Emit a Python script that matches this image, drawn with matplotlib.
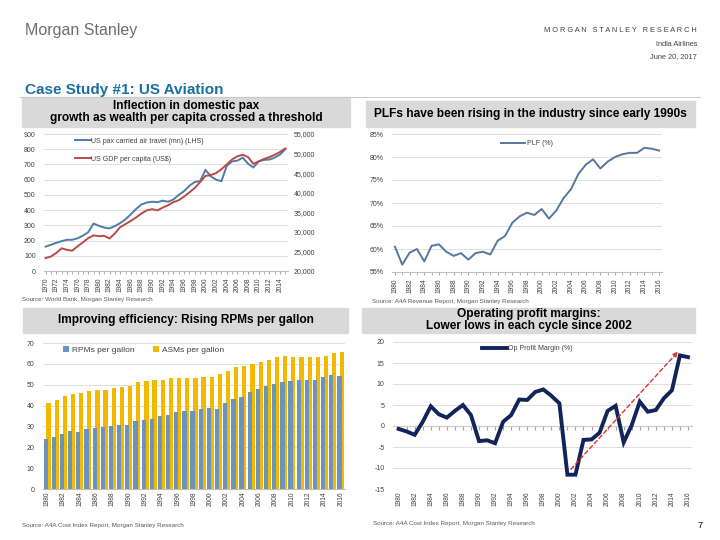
import matplotlib
matplotlib.use("Agg")
import matplotlib.pyplot as plt
from matplotlib.patches import Rectangle
from matplotlib.ticker import FuncFormatter, MultipleLocator

plt.rcParams['font.family'] = ['Liberation Sans', 'DejaVu Sans']
plt.rcParams['axes.unicode_minus'] = False

# -----------------------------------------------------
# Data
# -----------------------------------------------------

pax_years = list(range(1970, 2016))
pax_mn = [160, 172, 185, 196, 205, 205, 215, 232, 255, 312,
          297, 285, 280, 295, 315, 340, 372, 408, 437, 450,
          455, 452, 462, 455, 470, 500, 525, 560, 585, 590,
          665, 622, 600, 590, 690, 720, 725, 745, 705, 680,
          720, 730, 732, 745, 765, 800]
gdp_pc = [23300, 23700, 24600, 25800, 25400, 25200, 26300, 27300, 28400, 29100,
          28900, 29000, 28300, 29600, 31200, 32000, 32800, 33700, 34700, 35500,
          35800, 35500, 36200, 36800, 37600, 38100, 39000, 40100, 41200, 42700,
          44300, 44500, 45000, 46000, 47200, 48500, 49300, 49700, 49100, 47400,
          48000, 48600, 49100, 49700, 50400, 51300]

plf_years = list(range(1980, 2017))
plf_pct = [60.5, 56.6, 59.2, 60.0, 57.3, 60.7, 61.0, 59.4, 58.5, 59.1,
           57.7, 59.1, 59.4, 58.8, 61.8, 62.8, 65.7, 67.1, 67.9, 67.4,
           68.7, 66.6, 68.4, 71.1, 73.0, 76.3, 78.3, 79.5, 77.5, 79.0,
           80.0, 80.6, 80.9, 80.9, 82.0, 81.8, 81.4]

eff_years = list(range(1980, 2017))
rpm_per_gal = [24.0, 25.0, 26.3, 28.0, 27.2, 29.0, 29.2, 29.8, 30.3, 30.8,
               30.8, 32.5, 33.0, 33.7, 34.8, 35.5, 37.0, 37.5, 37.5, 38.2,
               39.0, 38.3, 41.0, 43.0, 44.3, 46.5, 48.0, 49.3, 50.3, 51.2,
               52.0, 52.2, 52.3, 52.5, 53.6, 54.6, 54.0]
asm_per_gal = [41.0, 42.7, 44.5, 45.5, 45.8, 47.0, 47.7, 47.5, 48.3, 48.8,
               49.2, 51.2, 51.8, 52.3, 52.3, 53.0, 53.2, 53.3, 53.0, 53.5,
               53.7, 55.0, 56.8, 58.7, 58.8, 59.8, 60.7, 61.7, 63.2, 63.6,
               63.2, 63.5, 63.2, 63.2, 64.0, 65.2, 65.5]

margin_years = list(range(1980, 2017))
op_margin = [-0.7, -1.3, -2.1, 1.0, 4.7, 2.8, 2.0, 3.6, 5.0, 2.6,
             -3.6, -3.4, -4.1, 1.0, 2.6, 6.3, 6.2, 8.1, 8.7, 7.2,
             5.4, -11.6, -11.6, -3.3, -3.2, -1.6, 3.6, 4.8, -3.9, 0.2,
             5.8, 3.4, 3.8, 6.6, 8.5, 16.8, 16.4]

# trend arrow (start / end of the dashed red arrow)
arrow_from = (2001.2, -10.8)
arrow_to = (2015.0, 18.2)

# -----------------------------------------------------
# Helpers (positions given in slide pixels)
# -----------------------------------------------------

W, H = 720, 540
fig = plt.figure(figsize=(7.2, 5.4), dpi=100)


def box(x0, y0, x1, y1):
    return [x0 / W, 1 - y1 / H, (x1 - x0) / W, (y1 - y0) / H]


def title_box(x0, y0, x1, y1, text):
    fig.patches.append(Rectangle((x0 / W, 1 - y1 / H), (x1 - x0) / W, (y1 - y0) / H,
                                 transform=fig.transFigure, color='#d9d9d9', zorder=0))
    fig.text((x0 + x1) / 2 / W, 1 - (y0 + y1) / 2 / H, text, ha='center', va='center',
             fontsize=8.6, fontweight='bold', linespacing=1.0)


def source(x, y, text):
    fig.text(x / W, 1 - y / H, text, fontsize=4.5, color='#595959', va='center')


def excel_style(ax):
    for s in ['top', 'right', 'left']:
        ax.spines[s].set_visible(False)
    ax.spines['bottom'].set_color('#bfbfbf')
    ax.grid(axis='y', color='#d9d9d9', lw=0.6)
    ax.set_axisbelow(True)
    ax.tick_params(axis='y', length=0, labelsize=5, colors='#404040', pad=6)
    ax.tick_params(axis='x', length=2.5, color='#a6a6a6', labelsize=4.8,
                   labelrotation=90, labelcolor='#404040', pad=2)


# -----------------------------------------------------
# Page header
# -----------------------------------------------------

fig.text(25 / W, 1 - 30 / H, "Morgan Stanley", fontsize=11.5, color='#6e6e6e', va='center')
fig.text(697 / W, 1 - 30 / H, "M O R G A N   S T A N L E Y   R E S E A R C H",
         fontsize=5.3, color='#404040', ha='right', va='center')
fig.text(697 / W, 1 - 44 / H, "India Airlines", fontsize=5.3, color='#404040', ha='right', va='center')
fig.text(697 / W, 1 - 57 / H, "June 20, 2017", fontsize=5.3, color='#404040', ha='right', va='center')
fig.text(25 / W, 1 - 90 / H, "Case Study #1: US Aviation", fontsize=11, fontweight='bold',
         color='#1a6fa3', va='center')
fig.lines.append(plt.Line2D([20 / W, 700 / W], [1 - 97 / H, 1 - 97 / H],
                            transform=fig.transFigure, color='#c8c8c8', lw=0.7))

# -----------------------------------------------------
# 1. Pax vs GDP per capita
# -----------------------------------------------------

title_box(22, 97, 350, 127, "Inflection in domestic pax\ngrowth as wealth per capita crossed a threshold")
ax1 = fig.add_axes(box(44, 134, 288, 271))
excel_style(ax1)
l1, = ax1.plot(pax_years, pax_mn, color='#4f7cab', lw=1.4)
ax1.set_ylim(0, 900)
ax1.yaxis.set_major_locator(MultipleLocator(100))
ax1.set_xlim(1969.7, 2015.5)
ax1.set_xticks(range(1970, 2015, 2))
ax1.xaxis.set_minor_locator(MultipleLocator(1))
ax1.tick_params(axis='x', which='minor', length=2.5, color='#a6a6a6')

ax1r = ax1.twinx()
for s in ['top', 'right', 'left', 'bottom']:
    ax1r.spines[s].set_visible(False)
l2, = ax1r.plot(pax_years, gdp_pc, color='#b94a48', lw=1.4)
ax1r.set_ylim(20000, 55000)
ax1r.yaxis.set_major_locator(MultipleLocator(5000))
ax1r.yaxis.set_major_formatter(FuncFormatter(lambda v, p: f"{int(v):,}"))
ax1r.tick_params(axis='y', length=0, labelsize=5, colors='#404040', pad=4)
ax1.legend([l1, l2], ["US pax carried air travel (mn) (LHS)", "US GDP per capita (US$)"],
           loc='upper left', bbox_to_anchor=(0.1, 1.02), frameon=False, fontsize=5,
           handlelength=2.3, labelspacing=1.6, handletextpad=0.1, labelcolor='#404040')
source(22, 299, "Source: World Bank, Morgan Stanley Research")

# -----------------------------------------------------
# 2. Passenger load factor
# -----------------------------------------------------

title_box(366, 101, 695, 127, "PLFs have been rising in the industry since early 1990s")
ax2 = fig.add_axes(box(392, 134, 662, 272))
excel_style(ax2)
ax2.plot(plf_years, plf_pct, color='#56789f', lw=1.4, label="PLF (%)")
ax2.set_ylim(55, 85)
ax2.yaxis.set_major_locator(MultipleLocator(5))
ax2.yaxis.set_major_formatter(FuncFormatter(lambda v, p: f"{int(v)}%"))
ax2.set_xlim(1979.6, 2016.4)
ax2.set_xticks(range(1980, 2017, 2))
ax2.xaxis.set_minor_locator(MultipleLocator(1))
ax2.tick_params(axis='x', which='minor', length=2.5, color='#a6a6a6')
ax2.legend(loc='upper center', bbox_to_anchor=(0.5, 1.0), frameon=False, fontsize=5,
           handlelength=3.5, handletextpad=0.2, labelcolor='#404040')
source(372, 302, "Source: A4A Revenue Report, Morgan Stanley Research")

# -----------------------------------------------------
# 3. RPMs / ASMs per gallon
# -----------------------------------------------------

title_box(23, 308, 348, 333, "Improving efficiency: Rising RPMs per gallon")
ax3 = fig.add_axes(box(43, 343, 345, 489))
excel_style(ax3)
ax3.bar([y + 0.17 for y in eff_years], asm_per_gal, width=0.52, color='#f5b800',
        label="ASMs per gallon", zorder=2)
ax3.bar([y - 0.17 for y in eff_years], rpm_per_gal, width=0.52, color='#6b93bb',
        label="RPMs per gallon", zorder=3)
ax3.set_ylim(0, 70)
ax3.yaxis.set_major_locator(MultipleLocator(10))
ax3.set_xlim(1979.5, 2016.5)
ax3.set_xticks(range(1980, 2017, 2))
ax3.tick_params(axis='x', length=0)
h, lab = ax3.get_legend_handles_labels()
ax3.legend(h[::-1], lab[::-1], loc='upper left', bbox_to_anchor=(0.04, 1.03), ncol=2,
           frameon=False, fontsize=6, handlelength=0.8, handleheight=0.8,
           handletextpad=0.3, columnspacing=2.2, labelcolor='#404040')
source(22, 525, "Source: A4A Cost Index Report, Morgan Stanley Research")

# -----------------------------------------------------
# 4. Operating profit margin
# -----------------------------------------------------

title_box(362, 308, 695, 333, "Operating profit margins:\nLower lows in each cycle since 2002")
ax4 = fig.add_axes(box(393, 342, 692, 489))
excel_style(ax4)
ax4.spines['bottom'].set_visible(False)
ax4.plot(margin_years, op_margin, color='#12245a', lw=2.8, label="Op Profit Margin (%)",
         solid_joinstyle='miter', zorder=3)
ax4.set_ylim(-15, 20)
ax4.yaxis.set_major_locator(MultipleLocator(5))
ax4.set_xlim(1979.3, 2016.5)
ax4.set_xticks(range(1980, 2017, 2))
ax4.tick_params(axis='x', length=0)
zero_frac = (0 - (-15)) / (20 - (-15))
ax4z = ax4.secondary_xaxis(zero_frac)
ax4z.spines['bottom'].set_color('#a6a6a6')
ax4z.set_xticks(range(1980, 2017))
ax4z.tick_params(axis='x', length=3, color='#a6a6a6', labelbottom=False)
ax4.annotate("", xy=arrow_to, xytext=arrow_from,
             arrowprops=dict(arrowstyle='-|>', color='#e0302f', lw=1.0, linestyle=(0, (3, 2)),
                             mutation_scale=7), zorder=4)
ax4.legend(loc='upper center', bbox_to_anchor=(0.45, 1.02), frameon=False, fontsize=5,
           handlelength=3.5, handletextpad=0.2, labelcolor='#404040')
source(373, 524, "Source: A4A Cost Index Report, Morgan Stanley Research")
fig.text(700 / W, 1 - 526 / H, "7", fontsize=6.5, va='center', ha='center')

fig.savefig("out.png", dpi=100)
